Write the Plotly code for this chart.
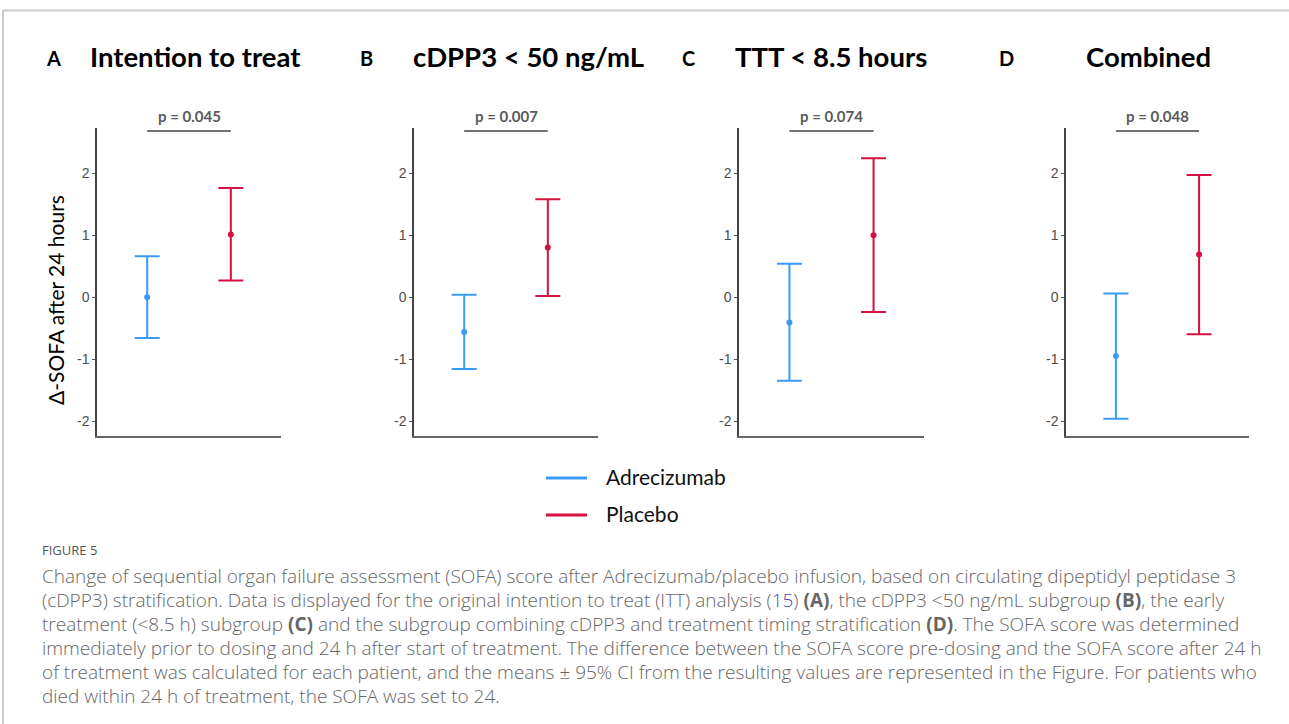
import plotly.graph_objects as go

# ---------------- data ----------------
panel_letters = ["A", "B", "C", "D"]
panel_titles = ["Intention to treat", "cDPP3 &lt; 50 ng/mL", "TTT &lt; 8.5 hours", "Combined"]
p_values = ["p = 0.045", "p = 0.007", "p = 0.074", "p = 0.048"]
groups = ["Adrecizumab", "Placebo"]

adre_mean = [0.00, -0.56, -0.41, -0.95]
adre_low = [-0.66, -1.16, -1.35, -1.96]
adre_high = [0.66, 0.04, 0.54, 0.06]

plac_mean = [1.01, 0.80, 1.00, 0.69]
plac_low = [0.27, 0.02, -0.24, -0.60]
plac_high = [1.76, 1.58, 2.24, 1.97]

y_ticks = [-2, -1, 0, 1, 2]
sig_level = 2.68

colors = {"Adrecizumab": "#3A9BF7", "Placebo": "#D4113F"}

W, H = 1289, 724
def px(x):
    return x / W
def py(y):
    return 1 - y / H

x_domains_px = [(97, 281), (414, 598), (739, 924), (1066, 1249)]
y_domain = [py(436), py(128)]
letter_x = [53, 366, 688, 1006]
title_cx = [195, 528, 831, 1148]

fig = go.Figure()
layout_axes = {}

for i in range(4):
    xa = "x" if i == 0 else f"x{i+1}"
    ya = "y" if i == 0 else f"y{i+1}"
    means = [adre_mean[i], plac_mean[i]]
    lows = [adre_low[i], plac_low[i]]
    highs = [adre_high[i], plac_high[i]]
    for g_idx, g in enumerate(groups):
        fig.add_trace(go.Scatter(
            x=[g_idx + 1], y=[means[g_idx]],
            mode="markers",
            marker=dict(color=colors[g], size=6),
            error_y=dict(type="data", symmetric=False,
                         array=[highs[g_idx] - means[g_idx]],
                         arrayminus=[means[g_idx] - lows[g_idx]],
                         color=colors[g], thickness=2, width=12.5),
            xaxis=xa, yaxis=ya, showlegend=False, cliponaxis=False,
        ))
    # significance bar
    fig.add_trace(go.Scatter(
        x=[1, 2], y=[sig_level, sig_level], mode="lines",
        line=dict(color="#707070", width=2),
        xaxis=xa, yaxis=ya, showlegend=False, cliponaxis=False, hoverinfo="skip",
    ))
    fig.add_annotation(
        x=1.5, y=sig_level, xref=xa, yref=ya, text=f"<b>{p_values[i]}</b>",
        showarrow=False, xanchor="center", yanchor="bottom", yshift=4,
        font=dict(family="Lato", size=15, color="#5a5a5a"),
    )
    xk = "xaxis" if i == 0 else f"xaxis{i+1}"
    yk = "yaxis" if i == 0 else f"yaxis{i+1}"
    d0, d1 = x_domains_px[i]
    layout_axes[xk] = dict(
        domain=[px(d0), px(d1)], range=[0.4, 2.6], anchor=ya,
        showline=True, linecolor="#666666", linewidth=1.5,
        showticklabels=False, ticks="", showgrid=False, zeroline=False,
        fixedrange=True,
    )
    layout_axes[yk] = dict(
        domain=y_domain, range=[-2.24, 2.73], anchor=xa,
        showline=True, linecolor="#444444", linewidth=1.5,
        tickvals=y_ticks, ticktext=[str(t) for t in y_ticks],
        ticks="outside", ticklen=3, tickcolor="#555555", tickwidth=1,
        tickfont=dict(family="Liberation Sans", size=14, color="#4d4d4d"),
        showgrid=False, zeroline=False, fixedrange=True,
    )
    # panel letter and title
    fig.add_annotation(x=px(letter_x[i]), y=py(58), xref="paper", yref="paper",
                       text=f"<b>{panel_letters[i]}</b>", showarrow=False,
                       xanchor="center", yanchor="middle",
                       font=dict(family="Lato", size=20, color="#000000"))
    fig.add_annotation(x=px(title_cx[i]), y=py(57), xref="paper", yref="paper",
                       text=f"<b>{panel_titles[i]}</b>", showarrow=False,
                       xanchor="center", yanchor="middle",
                       font=dict(family="Lato", size=27.5, color="#000000"))

fig.update_layout(**layout_axes)

# y axis title
fig.add_annotation(x=px(56), y=py(300), xref="paper", yref="paper",
                   text="Δ-SOFA after 24 hours", textangle=-90, showarrow=False,
                   xanchor="center", yanchor="middle",
                   font=dict(family="Lato", size=21, color="#000000"))

# legend (manual)
legend_y = [478, 515]
for g, ly in zip(groups, legend_y):
    fig.add_shape(type="line", xref="paper", yref="paper",
                  x0=px(546), x1=px(587), y0=py(ly), y1=py(ly),
                  line=dict(color=colors[g], width=3))
    fig.add_annotation(x=px(604), y=py(ly - 2), xref="paper", yref="paper",
                       text=g, showarrow=False, xanchor="left", yanchor="middle",
                       font=dict(family="Lato", size=21, color="#111111"))

# frame lines
fig.add_shape(type="line", xref="paper", yref="paper", x0=px(3), x1=1, y0=py(10.5), y1=py(10.5),
              line=dict(color="#cccccc", width=2))
fig.add_shape(type="line", xref="paper", yref="paper", x0=px(3), x1=px(3), y0=py(10), y1=0,
              line=dict(color="#cccccc", width=2))

# caption
fig.add_annotation(x=px(40), y=py(550), xref="paper", yref="paper", text="FIGURE 5",
                   showarrow=False, xanchor="left", yanchor="middle",
                   font=dict(family="Open Sans", size=13, color="#555555"))
link = '<span style="color:#4b4bb0">15</span>'
caption_lines = [
    "Change of sequential organ failure assessment (SOFA) score after Adrecizumab/placebo infusion, based on circulating dipeptidyl peptidase 3",
    f"(cDPP3) stratification. Data is displayed for the original intention to treat (ITT) analysis ({link}) <b>(A)</b>, the cDPP3 &lt;50 ng/mL subgroup <b>(B)</b>, the early",
    "treatment (&lt;8.5 h) subgroup <b>(C)</b> and the subgroup combining cDPP3 and treatment timing stratification <b>(D)</b>. The SOFA score was determined",
    "immediately prior to dosing and 24 h after start of treatment. The difference between the SOFA score pre-dosing and the SOFA score after 24 h",
    "of treatment was calculated for each patient, and the means ± 95% CI from the resulting values are represented in the Figure. For patients who",
    "died within 24 h of treatment, the SOFA was set to 24.",
]
caption_y = [576, 600, 624, 648, 672, 696]
for t, cy in zip(caption_lines, caption_y):
    fig.add_annotation(x=px(40), y=py(cy), xref="paper", yref="paper", text=t,
                       showarrow=False, xanchor="left", yanchor="middle",
                       font=dict(family="Open Sans", size=19, color="#666666", weight=300))

fig.update_layout(width=W, height=H, margin=dict(l=0, r=0, t=0, b=0),
                  paper_bgcolor="white", plot_bgcolor="white", showlegend=False)

fig.write_html("out.html", config={"displayModeBar": False},
               post_script="document.body.style.margin='0';")
